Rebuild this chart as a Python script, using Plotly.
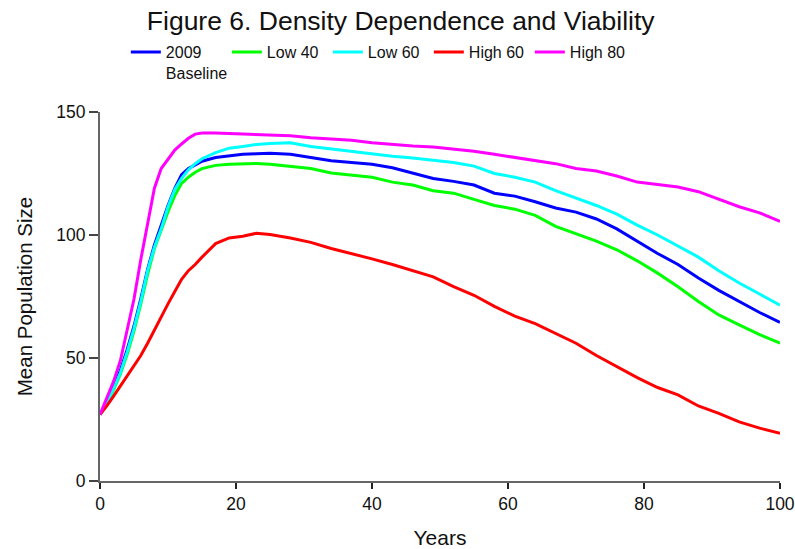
import plotly.graph_objects as go

years = [0, 1, 2, 3, 4, 5, 6, 7, 8, 9, 10, 11, 12, 13, 14, 15, 17, 19, 21, 23, 25, 28, 31, 34, 37,
         40, 43, 46, 49, 52, 55, 58, 61, 64, 67, 70, 73, 76, 79, 82, 85, 88, 91, 94, 97, 100]

baseline_2009 = [27, 32, 38, 45, 53.5, 63, 74, 86, 96, 104, 112, 119, 124.5, 127, 128.5, 130, 131.5, 132.2,
                 132.8, 133, 133.2, 132.8, 131.5, 130.2, 129.5, 128.8, 127.3, 125.3, 123, 121.8, 120.3, 117,
                 115.8, 113.5, 111, 109.3, 106.5, 102.5, 97.5, 92.5, 88, 82.5, 77.5, 73, 68.5, 64.5]

low_40 = [27, 31, 37, 43.5, 51.5, 61, 72, 84, 94.5, 102, 109.5, 116, 121, 123.5, 125.5, 127, 128.3, 128.8,
          129.1, 129.1, 128.8, 127.8, 127, 125.2, 124.5, 123.5, 121.5, 120.3, 118, 117, 114.5, 112,
          110.5, 108, 103.5, 100.5, 97.5, 94, 89.5, 84.5, 79, 73, 67.5, 63.5, 59.5, 56]

low_60 = [27, 31.5, 37.5, 44, 52.5, 62, 73, 85.5, 95, 102.5, 111.5, 118.5, 123, 126.5, 129, 131, 133.5, 135.3,
          136, 136.8, 137.2, 137.5, 136, 135, 134, 132.8, 132, 131.3, 130.3, 129.5, 128, 125,
          123.5, 121.5, 118, 115, 112, 108.5, 104, 100, 95.5, 91, 85.5, 80.5, 76, 71.5]

high_60 = [27, 30.5, 34.5, 38.5, 42.5, 47, 51, 56, 61.5, 66.5, 72, 77, 82, 85.5, 88, 91, 96.5, 98.8,
           99.5, 100.7, 100.2, 98.8, 97, 94.5, 92.5, 90.3, 88, 85.5, 83, 79, 75.5, 71,
           67, 64, 60, 56, 51, 46.5, 42, 38, 35, 30.5, 27.5, 24, 21.5, 19.4]

high_80 = [27, 33.5, 40.5, 49, 61.5, 74, 90, 104, 119, 127, 131, 134.5, 137, 139.3, 141, 141.5, 141.5, 141.3,
           141, 140.8, 140.5, 140.3, 139.5, 139, 138.5, 137.5, 136.8, 136.2, 135.8, 135, 134, 132.8,
           131.5, 130.2, 129, 127, 126, 124, 121.5, 120.5, 119.5, 117.6, 114.5, 111.5, 109, 105.5]

series_names = ["2009<br>Baseline", "Low 40", "Low 60", "High 60", "High 80"]
series_values = [baseline_2009, low_40, low_60, high_60, high_80]
series_colors = ["#0000FF", "#00FF00", "#00FFFF", "#FF0000", "#FF00FF"]

x_ticks = [0, 20, 40, 60, 80, 100]
y_ticks = [0, 50, 100, 150]

FONT = "Liberation Sans, Arial, sans-serif"

fig = go.Figure()
for name, vals, col in zip(series_names, series_values, series_colors):
    fig.add_trace(go.Scatter(x=years, y=vals, mode="lines", name=name,
                             line=dict(color=col, width=3)))

axis_common = dict(showgrid=False, zeroline=False, mirror=False, automargin=False)

fig.update_layout(
    width=795, height=549,
    paper_bgcolor="white", plot_bgcolor="white",
    margin=dict(l=100, r=15, t=112, b=68, autoexpand=False),
    font=dict(family=FONT, color="#111111"),
    title=dict(text="Figure 6. Density Dependence and Viability", x=0.504, xanchor="center",
               y=0.963, yanchor="middle", yref="container",
               font=dict(size=26.5, family=FONT, color="#111111")),
    showlegend=True,
    legend=dict(orientation="h", x=0.038, xanchor="left", y=0.936, yanchor="top",
                xref="paper", yref="container",
                font=dict(size=16, family=FONT, color="#111111"),
                entrywidth=56, entrywidthmode="pixels", itemwidth=30,
                bgcolor="rgba(0,0,0,0)", valign="top"),
    xaxis=dict(range=[0, 100], tickvals=x_ticks, ticks="outside", ticklen=6, tickwidth=1.5,
               tickcolor="#222222", showline=True, linecolor="#666666", linewidth=2,
               tickfont=dict(size=17.5, family=FONT, color="#111111"),
               ticklabeloverflow="allow",
               title=dict(text="Years", font=dict(size=21, family=FONT, color="#111111"), standoff=20),
               **axis_common),
    yaxis=dict(range=[0, 150], tickvals=y_ticks, ticks="outside", ticklen=9, tickwidth=1.5,
               tickcolor="#444444", showline=True, linecolor="#666666", linewidth=2,
               tickfont=dict(size=17.5, family=FONT, color="#111111"),
               title=dict(text="Mean Population Size", font=dict(size=20.5, family=FONT, color="#111111"),
                          standoff=18),
               **axis_common),
    xaxis2=dict(range=[0, 100], tickvals=x_ticks, ticks="inside", ticklen=9, tickwidth=1.5,
                tickcolor="#222222", showticklabels=False, overlaying="x", anchor="y",
                side="bottom", showline=False, **axis_common),
    yaxis2=dict(range=[0, 150], tickvals=y_ticks, ticks="inside", ticklen=8, tickwidth=1.5,
                tickcolor="#444444", showticklabels=False, overlaying="y", anchor="x",
                side="left", showline=False, **axis_common),
)

fig.write_html("out.html")
